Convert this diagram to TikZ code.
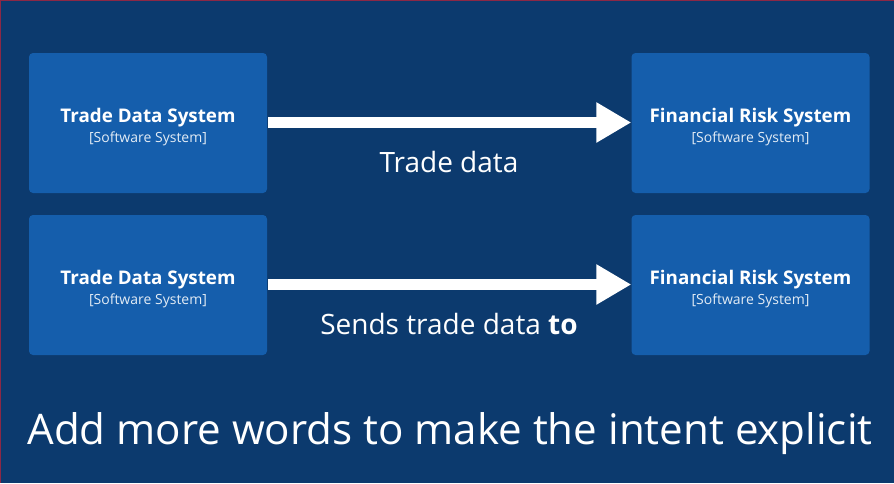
\documentclass[tikz,border=0pt]{standalone}
\usepackage{fontspec}
\setmainfont{Open Sans}
\usetikzlibrary{arrows.meta}
\definecolor{bgblue}{RGB}{12,58,110}
\definecolor{boxblue}{RGB}{21,94,172}
\definecolor{edgered}{RGB}{140,40,70}
\tikzset{
  sysbox/.style={fill=boxblue, rounded corners=4pt, minimum width=238pt, minimum height=140pt, inner sep=0pt},
  systitle/.style={text=white, font=\bfseries\fontsize{18.8}{22}\selectfont, inner sep=0pt},
  syssub/.style={text=white!88!boxblue, font=\fontsize{14}{16}\selectfont, inner sep=0pt},
  bigarrow/.style={draw=white, line width=11pt, -{Triangle[length=35pt,width=38pt]}, shorten <=1pt},
  rellabel/.style={text=white, font=\fontsize{28}{32}\selectfont, inner sep=0pt},
}
\begin{document}
\begin{tikzpicture}[x=1pt,y=-1pt]
\useasboundingbox (0,0) rectangle (894,483);
\fill[bgblue] (0,0) rectangle (894,483);
\fill[edgered] (0,0) rectangle (1.2,483);
\fill[edgered] (0,0) rectangle (894,1.2);
% row 1
\node[sysbox] (tds1) at (148,123) {};
\node[sysbox] (frs1) at (750.5,123) {};
\node[systitle] (tds1t) at (148,117.5) {Trade Data System};
\node[syssub] (tds1s) at (148,139) {[Software System]};
\node[systitle] (frs1t) at (750.5,117.5) {Financial Risk System};
\node[syssub] (frs1s) at (750.5,139) {[Software System]};
\draw[bigarrow] (tds1.east |- 0,122.5) -- (frs1.west |- 0,122.5);
\node[rellabel] (lab1) at (449,162) {Trade data};
% row 2
\node[sysbox] (tds2) at (148,285) {};
\node[sysbox] (frs2) at (750.5,285) {};
\node[systitle] (tds2t) at (148,279.5) {Trade Data System};
\node[syssub] (tds2s) at (148,301) {[Software System]};
\node[systitle] (frs2t) at (750.5,279.5) {Financial Risk System};
\node[syssub] (frs2s) at (750.5,301) {[Software System]};
\draw[bigarrow] (tds2.east |- 0,284.5) -- (frs2.west |- 0,284.5);
\node[rellabel] (lab2) at (449,324) {Sends trade data \textbf{to}};
% caption
\node[text=white, font=\fontsize{42.1}{50}\selectfont, inner sep=0pt] (cap) at (450,434) {Add more words to make the intent explicit};
\end{tikzpicture}
\end{document}
